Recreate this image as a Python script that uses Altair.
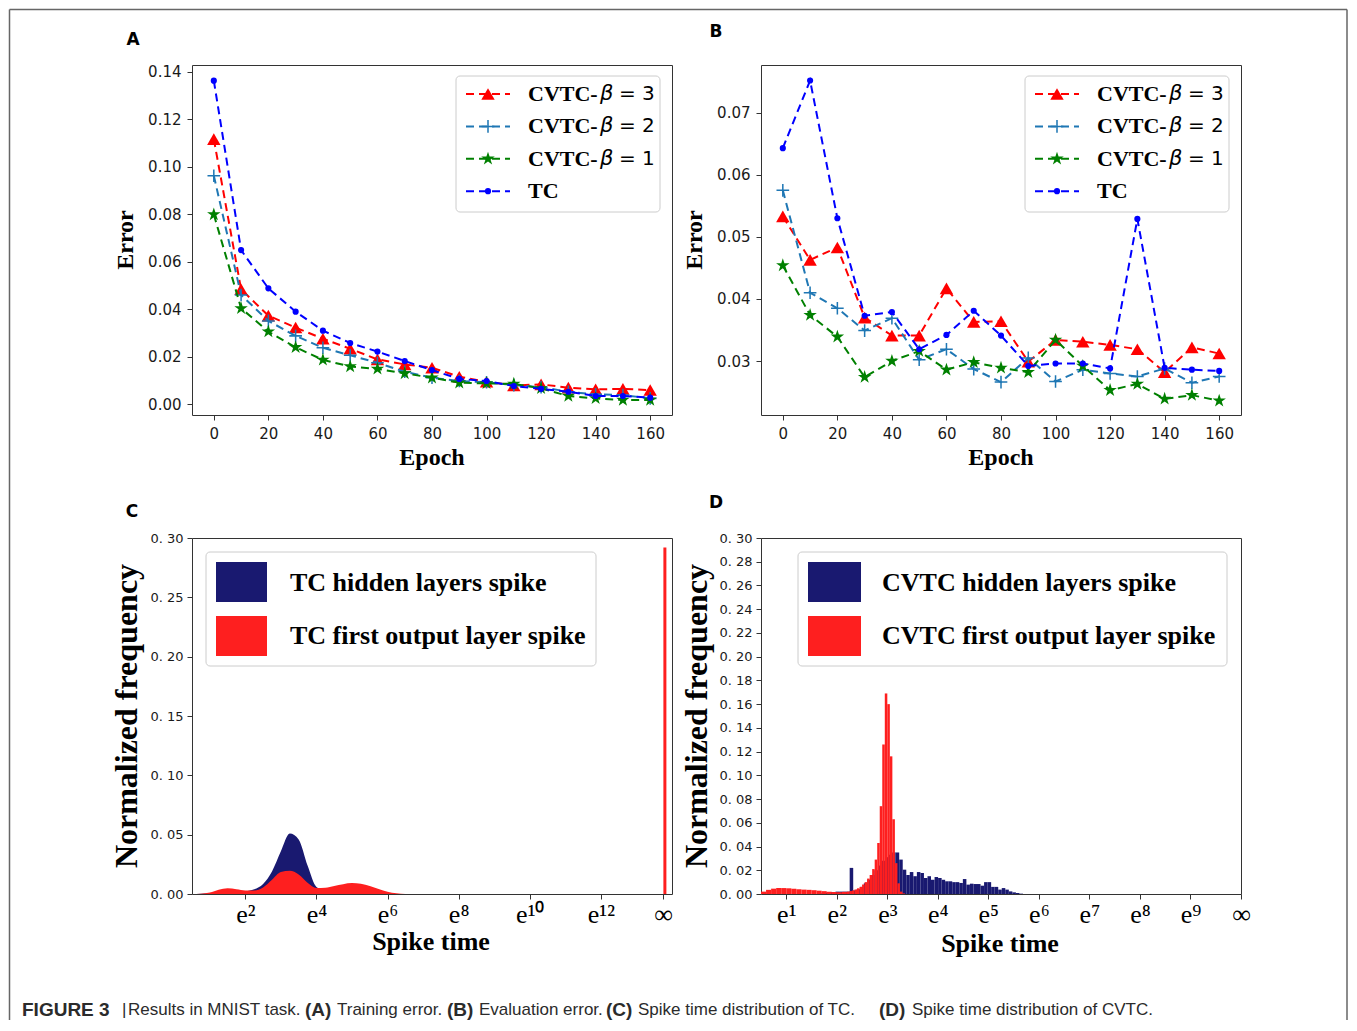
import altair as alt
import pandas as pd

# ---------------- Panel A / B : error per epoch ----------------
epochs = [0, 10, 20, 30, 40, 50, 60, 70, 80, 90, 100, 110, 120, 130, 140, 150, 160]
series_names = ["beta3", "beta2", "beta1", "TC"]
legend_prefix = ["CVTC-", "CVTC-", "CVTC-", "TC"]
legend_beta = ["β", "β", "β", ""]
legend_value = ["= 3", "= 2", "= 1", ""]

train_beta3 = [0.1116, 0.0484, 0.0373, 0.0323, 0.0276, 0.0234, 0.0189, 0.0168, 0.0154,
               0.0116, 0.0095, 0.0079, 0.0084, 0.0070, 0.0063, 0.0065, 0.0060]
train_beta2 = [0.0962, 0.0460, 0.0351, 0.0288, 0.0238, 0.0206, 0.0175, 0.0137, 0.0112,
               0.0098, 0.0093, 0.0081, 0.0072, 0.0053, 0.0042, 0.0039, 0.0025]
train_beta1 = [0.0799, 0.0404, 0.0306, 0.0240, 0.0187, 0.0159, 0.0149, 0.0130, 0.0112,
               0.0091, 0.0088, 0.0086, 0.0067, 0.0035, 0.0025, 0.0018, 0.0018]
train_tc = [0.1362, 0.0649, 0.0488, 0.0390, 0.0310, 0.0258, 0.0222, 0.0182, 0.0144,
            0.0107, 0.0098, 0.0077, 0.0065, 0.0053, 0.0035, 0.0035, 0.0028]

eval_beta3 = [0.0533, 0.0463, 0.0483, 0.0370, 0.0341, 0.0341, 0.0417, 0.0363, 0.0364,
              0.0299, 0.0334, 0.0331, 0.0326, 0.0319, 0.0282, 0.0322, 0.0312]
eval_beta2 = [0.0575, 0.0410, 0.0385, 0.0349, 0.0369, 0.0302, 0.0319, 0.0287, 0.0266,
              0.0305, 0.0267, 0.0286, 0.0280, 0.0275, 0.0288, 0.0265, 0.0275]
eval_beta1 = [0.0454, 0.0374, 0.0339, 0.0274, 0.0300, 0.0316, 0.0286, 0.0298, 0.0289,
              0.0282, 0.0334, 0.0292, 0.0253, 0.0263, 0.0239, 0.0245, 0.0236]
eval_tc = [0.0643, 0.0752, 0.0530, 0.0373, 0.0379, 0.0319, 0.0342, 0.0381, 0.0341,
           0.0292, 0.0296, 0.0296, 0.0288, 0.0529, 0.0289, 0.0286, 0.0284]

epoch_ticks = [0, 20, 40, 60, 80, 100, 120, 140, 160]
A_y_ticks = [0.00, 0.02, 0.04, 0.06, 0.08, 0.10, 0.12, 0.14]
B_y_ticks = [0.03, 0.04, 0.05, 0.06, 0.07]

# ---------------- Panel C : TC spike time distribution (ln t) ----------------
C_ln_t = [0.5, 0.75, 1.0, 1.25, 1.5, 1.75, 2.0, 2.25, 2.5, 2.75, 3.0, 3.25, 3.5,
          3.75, 4.0, 4.25, 4.5, 4.75, 5.0, 5.25, 5.5, 5.75, 6.0, 6.25, 6.5]
C_hidden = [0.0, 0.0003, 0.0006, 0.001, 0.0013, 0.0017, 0.0023, 0.004, 0.0085, 0.019,
            0.036, 0.051, 0.046, 0.024, 0.006, 0.003, 0.002, 0.0015, 0.001, 0.0008,
            0.0005, 0.0003, 0.0001, 0.0, 0.0]
C_output = [0.0, 0.0002, 0.0012, 0.0035, 0.0048, 0.004, 0.003, 0.003, 0.0055, 0.012,
            0.0185, 0.0195, 0.0165, 0.0095, 0.005, 0.0052, 0.0068, 0.0083, 0.0092,
            0.0086, 0.0068, 0.0042, 0.002, 0.0006, 0.0]
C_inf_pos = 13.8
C_inf_freq = 0.292
C_x_ticks = [2, 4, 6, 8, 10, 12, 13.75]
C_x_labels = ["e²", "e⁴", "e⁶", "e⁸", "e¹⁰", "e¹²", "∞"]
C_y_ticks = [0.0, 0.05, 0.10, 0.15, 0.20, 0.25, 0.30]

# ---------------- Panel D : CVTC spike time distribution (ln t) ----------------
D_out_edges_a = [0.5, 0.6, 0.7, 0.8, 0.9, 1.0, 1.1, 1.2, 1.3, 1.4, 1.5, 1.6, 1.7, 1.8,
                 1.9, 2.0, 2.1, 2.2]
D_out_a = [0.002, 0.0035, 0.0045, 0.005, 0.005, 0.0048, 0.0045, 0.004, 0.0037, 0.0035,
           0.0032, 0.0028, 0.0024, 0.002, 0.0017, 0.0015, 0.0018]
D_out_edges_b = [2.2, 2.25, 2.3, 2.35, 2.4, 2.45, 2.5, 2.55, 2.6, 2.65, 2.7, 2.75, 2.8,
                 2.85, 2.9, 2.95, 3.0, 3.05, 3.1, 3.15, 3.2, 3.25, 3.3, 3.35]
D_out_b = [0.002, 0.0025, 0.003, 0.0038, 0.0048, 0.006, 0.008, 0.010, 0.013, 0.016,
           0.021, 0.029, 0.043, 0.074, 0.126, 0.169, 0.160, 0.116, 0.063, 0.026,
           0.009, 0.002, 0.0005]
D_hid_start = 1.695
D_hid_binw = 0.07
D_hidden = [0.001, 0.0012, 0.0015, 0.0017, 0.002, 0.002, 0.002, 0.002, 0.022, 0.003,
            0.004, 0.006, 0.009, 0.012, 0.016, 0.020, 0.024, 0.028, 0.031, 0.033,
            0.035, 0.035, 0.029, 0.0205, 0.016, 0.0185, 0.015, 0.0185, 0.0177, 0.0135,
            0.015, 0.012, 0.0143, 0.0135, 0.012, 0.0107, 0.0107, 0.010, 0.010, 0.0093,
            0.0126, 0.0079, 0.0087, 0.0084, 0.0084, 0.007, 0.010, 0.010, 0.006, 0.006,
            0.0037, 0.005, 0.0037, 0.0022, 0.0014, 0.0008, 0.0003]
D_x_ticks = [1, 2, 3, 4, 5, 6, 7, 8, 9, 10]
D_x_labels = ["e¹", "e²", "e³", "e⁴", "e⁵", "e⁶", "e⁷", "e⁸", "e⁹", "∞"]
D_y_ticks = [round(0.02 * i, 2) for i in range(16)]

caption_parts = [
    ("FIGURE 3", "bold", 22), ("|", "normal", 122), ("Results in MNIST task.", "normal", 128),
    ("(A)", "bold", 305), ("Training error.", "normal", 337), ("(B)", "bold", 447),
    ("Evaluation error.", "normal", 479), ("(C)", "bold", 606),
    ("Spike time distribution of TC.", "normal", 638), ("(D)", "bold", 879),
    ("Spike time distribution of CVTC.", "normal", 912),
]

# ---------------- styles ----------------
SERIF = "Liberation Serif"
SANS = "DejaVu Sans"
NAVY = "#191970"
RED = "#fe1f1f"
PLUS = ("M-1,-0.12L-0.12,-0.12L-0.12,-1L0.12,-1L0.12,-0.12L1,-0.12L1,0.12L0.12,0.12"
        "L0.12,1L-0.12,1L-0.12,0.12L-1,0.12Z")
STAR = ("M0,-1L0.2245,-0.309L0.951,-0.309L0.3633,0.118L0.5878,0.809L0,0.382"
        "L-0.5878,0.809L-0.3633,0.118L-0.951,-0.309L-0.2245,-0.309Z")
STYLE = {
    "beta3": ("#ff0000", "triangle-up", 180),
    "beta2": ("#1f77b4", PLUS, 160),
    "beta1": ("#008000", STAR, 200),
    "TC": ("#0000ff", "circle", 38),
}
one = pd.DataFrame({"k": [0]})


def text_layer(text, x, y, size, font=SERIF, weight="bold", angle=0, align="center",
               style="normal", color="black", baseline="middle"):
    return alt.Chart(one).mark_text(
        text=text, font=font, fontSize=size, fontWeight=weight, fontStyle=style,
        angle=angle, align=align, baseline=baseline, color=color
    ).encode(x=alt.value(x), y=alt.value(y))


def rect_layer(x1, x2, y1, y2, fill, stroke=None, sw=0, radius=0):
    kw = dict(fill=fill, strokeWidth=sw, cornerRadius=radius, opacity=1)
    if stroke:
        kw["stroke"] = stroke
    return alt.Chart(one).mark_rect(**kw).encode(
        x=alt.value(x1), x2=alt.value(x2), y=alt.value(y1), y2=alt.value(y2))


def hrule(x1, x2, y, color, width=1.0, dash=None):
    kw = dict(color=color, strokeWidth=width)
    if dash:
        kw["strokeDash"] = dash
    return alt.Chart(one).mark_rule(**kw).encode(
        x=alt.value(x1), x2=alt.value(x2), y=alt.value(y))


def vrule(x, y1, y2, color, width=1.0):
    return alt.Chart(one).mark_rule(color=color, strokeWidth=width).encode(
        x=alt.value(x), y=alt.value(y1), y2=alt.value(y2))


def axis_common(**kw):
    base = dict(title=None, grid=False, domain=False, tickColor="#333333", tickWidth=1,
                labelFlush=False, labelOverlap=False, labelBound=False)
    base.update(kw)
    return alt.Axis(**base)


def error_panel(values, ydom, yticks, letter, letter_xy):
    xsc = alt.Scale(domain=[-8, 168], nice=False, zero=False)
    ysc = alt.Scale(domain=ydom, nice=False, zero=False)
    xax = axis_common(values=epoch_ticks, tickSize=5, labelFont=SANS, labelFontSize=15,
                      labelColor="#1a1a1a", labelPadding=6)
    yax = axis_common(values=yticks, format=".2f", tickSize=5, labelFont=SANS,
                      labelFontSize=15, labelColor="#1a1a1a", labelPadding=6)
    layers = []
    for name, vals in zip(series_names, values):
        color, shape, size = STYLE[name]
        df = pd.DataFrame({"epoch": epochs, "err": vals})
        x = alt.X("epoch:Q", scale=xsc, axis=xax)
        y = alt.Y("err:Q", scale=ysc, axis=yax)
        layers.append(alt.Chart(df).mark_line(color=color, strokeDash=[8, 5],
                                              strokeWidth=2).encode(x=x, y=y))
        layers.append(alt.Chart(df).mark_point(color=color, fill=color, filled=True,
                                               opacity=1, shape=shape, size=size,
                                               strokeWidth=0).encode(x=x, y=y))
    # legend
    layers.append(rect_layer(264, 468, 11, 147, "white", "#cccccc", 1, 4))
    for i, name in enumerate(series_names):
        color, shape, size = STYLE[name]
        yy = 29 + 32.4 * i
        layers.append(hrule(274, 318, yy, color, 2, [8, 5]))
        layers.append(alt.Chart(one).mark_point(color=color, fill=color, filled=True,
                                                opacity=1, shape=shape, size=size,
                                                strokeWidth=0).encode(
            x=alt.value(296), y=alt.value(yy)))
        layers.append(text_layer(legend_prefix[i], 336, yy, 22, align="left"))
        if legend_beta[i]:
            layers.append(text_layer(legend_beta[i], 408, yy, 21, font=SANS,
                                     weight="normal", style="italic", align="left"))
            layers.append(text_layer(legend_value[i], 427, yy, 20, font=SANS,
                                     weight="normal", align="left"))
    # titles
    layers.append(text_layer("Error", -66, 175, 24, angle=270))
    layers.append(text_layer("Epoch", 240, 393, 24))
    layers.append(text_layer(letter, letter_xy[0], letter_xy[1], 17, font=SANS))
    return layers


def label_expr(vals, labels):
    expr = "''"
    for v, lab in reversed(list(zip(vals, labels))):
        expr = f"abs(datum.value - {v}) < 0.001 ? '{lab}' : ({expr})"
    return expr


y_label_expr = "replace(format(datum.value, '.2f'), '.', '. ')"


def dist_axes(xdom, xticks, xlabels, yticks):
    xsc = alt.Scale(domain=xdom, nice=False, zero=False)
    ysc = alt.Scale(domain=[0, 0.30], nice=False, zero=False)
    xax = axis_common(values=xticks, labelExpr=label_expr(xticks, xlabels), tickSize=5,
                      labelFont=SERIF, labelFontSize=26, labelColor="black",
                      labelPadding=2)
    yax = axis_common(values=yticks, labelExpr=y_label_expr, tickSize=5, labelFont=SANS,
                      labelFontSize=13, labelColor="#1a1a1a", labelPadding=4)
    return xsc, ysc, xax, yax


def dist_legend(box, sq, tx, labels):
    layers = [rect_layer(box[0], box[1], 14, 128, "white", "#cccccc", 1, 4),
              rect_layer(sq[0], sq[1], 24, 64, NAVY),
              rect_layer(sq[0], sq[1], 78, 118, RED),
              text_layer(labels[0], tx, 45, 26, align="left"),
              text_layer(labels[1], tx, 98, 26, align="left")]
    return layers


# ---------------- Panel A ----------------
A_layers = []
# figure frame (left, top, right) and caption, placed relative to panel A
A_layers.append(vrule(-182.5, -55.5, 955, "#666666", 1.5))
A_layers.append(vrule(1155, -55.5, 955, "#666666", 1.5))
A_layers.append(hrule(-182.5, 1155, -55.5, "#666666", 1.5))
for txt, wt, px in caption_parts:
    A_layers.append(text_layer(txt, px - 192, 945, 19 if wt == "bold" else 17,
                               font="Liberation Sans", weight=wt, align="left",
                               color="#2b2b2b"))
A_layers += error_panel([train_beta3, train_beta2, train_beta1, train_tc],
                        [-0.0045, 0.1428], A_y_ticks, "A", (-59, -25))
A = alt.layer(*A_layers).properties(width=480, height=350)

# ---------------- Panel B ----------------
B_layers = error_panel([eval_beta3, eval_beta2, eval_beta1, eval_tc],
                       [0.0213, 0.0777], B_y_ticks, "B", (-45, -33))
B = alt.layer(*B_layers).properties(width=480, height=350)

# ---------------- Panel C ----------------
xsc, ysc, xax, yax = dist_axes([0.5, 14], C_x_ticks, C_x_labels, C_y_ticks)
dfC = pd.DataFrame({"t": C_ln_t, "hidden": C_hidden, "output": C_output})
C_layers = [
    alt.Chart(dfC).mark_area(color=NAVY, interpolate="monotone", opacity=1).encode(
        x=alt.X("t:Q", scale=xsc, axis=xax), y=alt.Y("hidden:Q", scale=ysc, axis=yax)),
    alt.Chart(dfC).mark_area(color=RED, interpolate="monotone", opacity=1).encode(
        x=alt.X("t:Q", scale=xsc, axis=xax), y=alt.Y("output:Q", scale=ysc, axis=yax)),
    alt.Chart(pd.DataFrame({"t": [C_inf_pos], "f": [C_inf_freq]})).mark_rule(
        color=RED, strokeWidth=3).encode(
        x=alt.X("t:Q", scale=xsc, axis=xax), y=alt.Y("f:Q", scale=ysc, axis=yax),
        y2=alt.datum(0)),
]
C_layers += dist_legend((14, 404), (24, 75), 98,
                        ["TC hidden layers spike", "TC first output layer spike"])
C_layers.append(text_layer("Normalized frequency", -65, 178, 32, angle=270))
C_layers.append(text_layer("Spike time", 239, 404, 26))
C_layers.append(text_layer("C", -60, -26, 17, font=SANS))
C = alt.layer(*C_layers).properties(width=480, height=356)

# ---------------- Panel D ----------------
xsc, ysc, xax, yax = dist_axes([0.5, 10], D_x_ticks, D_x_labels, D_y_ticks)
hid_edges = [D_hid_start + D_hid_binw * i for i in range(len(D_hidden) + 1)]
dfDh = pd.DataFrame({"x1": hid_edges[:-1], "x2": hid_edges[1:], "f": D_hidden})
out_x1 = D_out_edges_a[:-1] + D_out_edges_b[:-1]
out_x2 = D_out_edges_a[1:] + D_out_edges_b[1:]
dfDo = pd.DataFrame({"x1": out_x1, "x2": out_x2, "f": D_out_a + D_out_b})
D_layers = [
    alt.Chart(dfDh).mark_rect(color=NAVY, opacity=1).encode(
        x=alt.X("x1:Q", scale=xsc, axis=xax), x2="x2:Q",
        y=alt.Y("f:Q", scale=ysc, axis=yax), y2=alt.datum(0)),
    alt.Chart(dfDo).mark_rect(color=RED, opacity=1).encode(
        x=alt.X("x1:Q", scale=xsc, axis=xax), x2="x2:Q",
        y=alt.Y("f:Q", scale=ysc, axis=yax), y2=alt.datum(0)),
]
D_layers += dist_legend((37, 466), (47, 100), 121,
                        ["CVTC hidden layers spike", "CVTC first output layer spike"])
D_layers.append(text_layer("Normalized frequency", -64, 178, 32, angle=270))
D_layers.append(text_layer("Spike time", 239, 406, 26))
D_layers.append(text_layer("D", -45, -35, 17, font=SANS))
D = alt.layer(*D_layers).properties(width=480, height=356)

chart = alt.concat(
    A, B, C, D, columns=2, spacing={"row": 123, "column": 89},
    bounds="flush", align="each"
).properties(padding=0, background="white").configure_view(
    stroke="#333333", strokeWidth=1)

chart.save("out.html", embed_options={"renderer": "svg", "actions": False})
